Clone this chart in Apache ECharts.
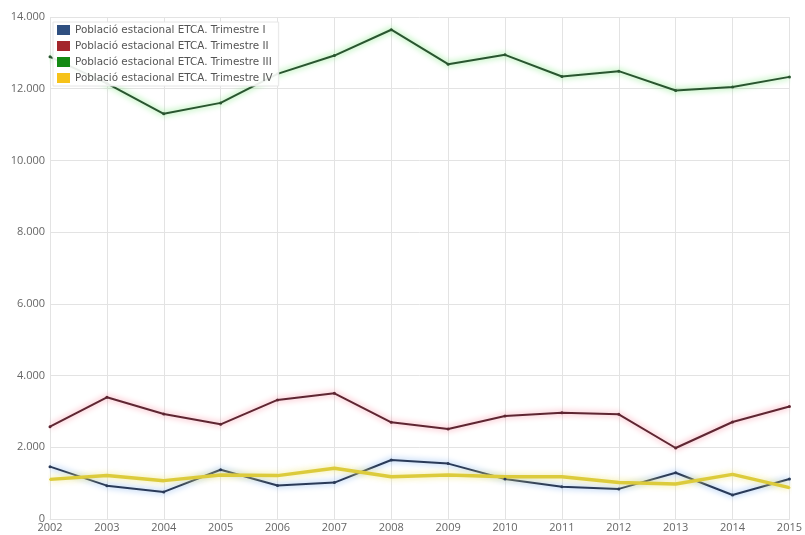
<!DOCTYPE html>
<html>
<head>
<meta charset="utf-8">
<script src="https://cdn.jsdelivr.net/npm/echarts@6/dist/echarts.min.js"></script>
<style>
html,body{margin:0;padding:0;background:#fff;}
#chart{width:805px;height:535px;}
</style>
</head>
<body>
<div id="chart"></div>
<script>
var years = ['2002','2003','2004','2005','2006','2007','2008','2009','2010','2011','2012','2013','2014','2015'];
var trimI   = [1460, 930, 755, 1375, 935, 1015, 1645, 1545, 1115, 900, 840, 1290, 670, 1115];
var trimII  = [2575, 3395, 2930, 2640, 3320, 3505, 2695, 2510, 2875, 2965, 2920, 1980, 2705, 3135];
var trimIII = [12890, 12150, 11300, 11605, 12415, 12925, 13645, 12685, 12945, 12340, 12490, 11950, 12045, 12330];
var trimIV  = [1105, 1210, 1070, 1230, 1210, 1415, 1180, 1230, 1180, 1180, 1015, 975, 1245, 875];
var seriesNames = ['Població estacional ETCA. Trimestre I','Població estacional ETCA. Trimestre II','Població estacional ETCA. Trimestre III','Població estacional ETCA. Trimestre IV'];

var chart = echarts.init(document.getElementById('chart'), null, {renderer:'canvas'});
function fmt(v){ return String(v).replace(/\B(?=(\d{3})+(?!\d))/g, '.'); }
function mk(name, data, lineColor, glow, width, sym){
  return {
    name: name, type: 'line', data: data,
    symbol: 'circle', symbolSize: sym,
    itemStyle: {color: lineColor},
    lineStyle: {color: lineColor, width: width, shadowColor: glow, shadowBlur: 6},
    emphasis: {disabled: true},
    animation: false
  };
}
chart.setOption({
  backgroundColor: '#fff',
  animation: false,
  grid: {left: 50, right: 11, top: 17, bottom: 16, containLabel: false},
  legend: {
    left: 53, top: 22, orient: 'vertical',
    itemWidth: 13, itemHeight: 10, itemGap: 6,
    padding: [3, 6, 3, 4],
    backgroundColor: 'rgba(255,255,255,0.9)',
    borderColor: '#e6e6e6', borderWidth: 1,
    textStyle: {fontFamily: 'DejaVu Sans', fontSize: 10.4, color: '#555'},
    icon: 'rect',
    data: [
      {name: seriesNames[0], itemStyle: {color: '#2f4f80'}},
      {name: seriesNames[1], itemStyle: {color: '#a3262c'}},
      {name: seriesNames[2], itemStyle: {color: '#138a13'}},
      {name: seriesNames[3], itemStyle: {color: '#f6c21a'}}
    ]
  },
  xAxis: {
    type: 'category', data: years, boundaryGap: false,
    axisLine: {show: true, lineStyle: {color: '#e3e3e3'}},
    axisTick: {show: false},
    splitLine: {show: true, lineStyle: {color: '#e3e3e3'}},
    axisLabel: {color: '#666', fontFamily: 'Open Sans', fontSize: 11, margin: 3, interval: 0}
  },
  yAxis: {
    type: 'value', min: 0, max: 14000, interval: 2000,
    axisLine: {show: false}, axisTick: {show: false},
    splitLine: {lineStyle: {color: '#e3e3e3'}},
    axisLabel: {color: '#666', fontFamily: 'Open Sans', fontSize: 11, margin: 5, formatter: fmt}
  },
  series: [
    mk(seriesNames[0], trimI, '#2a3a58', 'rgba(110,165,235,1)', 2, 3),
    mk(seriesNames[1], trimII, '#5e2632', 'rgba(245,130,150,1)', 2, 3),
    mk(seriesNames[2], trimIII, '#2a5530', 'rgba(100,225,100,1)', 2, 3),
    mk(seriesNames[3], trimIV, '#dccb3c', 'rgba(240,230,120,0.9)', 3.5, 2)
  ]
});
</script>
</body>
</html>
